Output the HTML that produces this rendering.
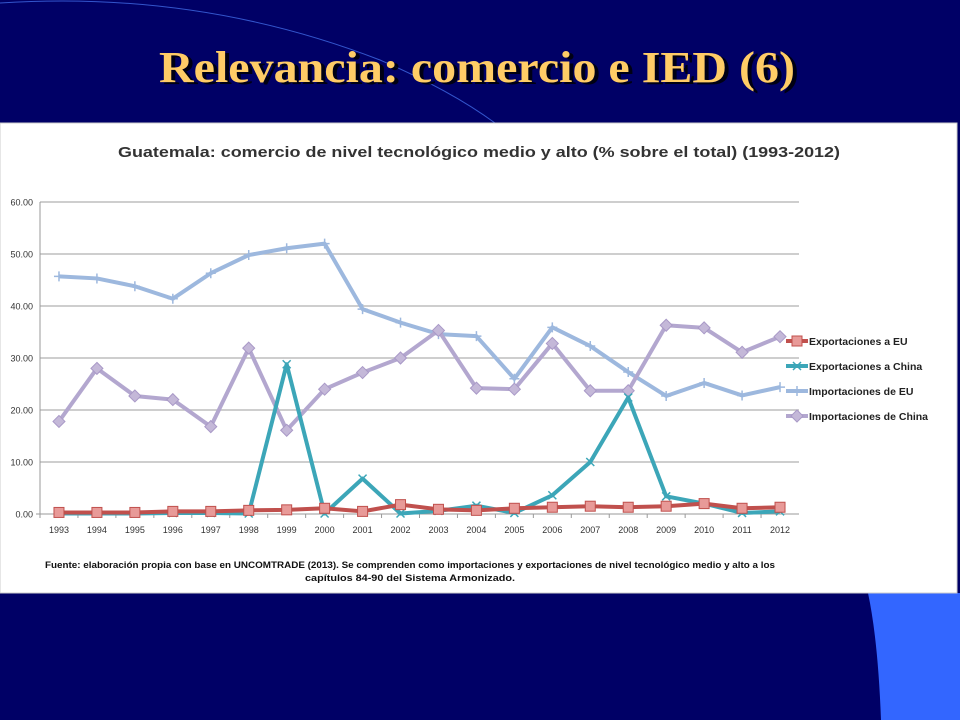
<!DOCTYPE html>
<html><head><meta charset="utf-8"><style>
html,body{margin:0;padding:0;background:#000066;}
svg{display:block;}
</style></head><body>
<svg width="960" height="720" viewBox="0 0 960 720" xmlns="http://www.w3.org/2000/svg">
<rect x="0" y="0" width="960" height="720" fill="#000066"/>
<path d="M0,3 Q200,-10 380,60 Q450,90 495,123" fill="none" stroke="#3355cc" stroke-width="1"/>
<path d="M868,593 L960,593 L960,720 L881,720 Q878,640 868,593 Z" fill="#3366ff"/>
<text x="479" y="82" text-anchor="middle" font-family="Liberation Serif, serif" font-weight="bold" font-size="44" fill="#000000" textLength="636" lengthAdjust="spacingAndGlyphs" opacity="0.8" transform="translate(2,2)">Relevancia: comercio e IED (6)</text>
<text x="477" y="82" text-anchor="middle" font-family="Liberation Serif, serif" font-weight="bold" font-size="44" fill="#ffcc66" textLength="636" lengthAdjust="spacingAndGlyphs">Relevancia: comercio e IED (6)</text>
<rect x="0" y="123" width="957" height="470" fill="#ffffff" stroke="#cccccc"/>
<text x="479" y="157" text-anchor="middle" font-family="Liberation Sans, sans-serif" font-weight="bold" font-size="15" fill="#333" textLength="722" lengthAdjust="spacingAndGlyphs">Guatemala: comercio de nivel tecnológico medio y alto (% sobre el total) (1993-2012)</text>
<g id="grid"></g>
<g id="axes"></g>
<g id="series"></g>
<g id="legend"></g>
<text x="410" y="568" text-anchor="middle" font-family="Liberation Sans, sans-serif" font-weight="bold" font-size="9.5" fill="#111" textLength="730" lengthAdjust="spacingAndGlyphs">Fuente: elaboración propia con base en UNCOMTRADE (2013). Se comprenden como importaciones y exportaciones de nivel tecnológico medio y alto a los</text>
<text x="410" y="581" text-anchor="middle" font-family="Liberation Sans, sans-serif" font-weight="bold" font-size="9.5" fill="#111" textLength="210" lengthAdjust="spacingAndGlyphs">capítulos 84-90 del Sistema Armonizado.</text>
</svg>
<script>
const years = ["1993","1994","1995","1996","1997","1998","1999","2000","2001","2002","2003","2004","2005","2006","2007","2008","2009","2010","2011","2012"];
const yTicks = [0,10,20,30,40,50,60];
const expEU = [0.3,0.3,0.3,0.5,0.5,0.7,0.8,1.1,0.5,1.8,0.9,0.7,1.1,1.3,1.5,1.3,1.5,2.0,1.1,1.3];
const expChina = [0.1,0.1,0.1,0.2,0.2,0.1,28.8,0.1,6.8,0.1,0.6,1.6,0.2,3.6,10.0,22.4,3.4,2.0,0.2,0.5];
const impEU = [45.7,45.3,43.8,41.4,46.3,49.8,51.1,52.0,39.4,36.8,34.6,34.2,26.0,35.9,32.3,27.3,22.7,25.2,22.8,24.4];
const impChina = [17.8,28.0,22.7,22.0,16.8,31.9,16.1,24.0,27.2,30.0,35.3,24.2,24.0,32.8,23.7,23.7,36.3,35.8,31.1,34.1];
const seriesNames = ["Exportaciones a EU","Exportaciones a China","Importaciones de EU","Importaciones de China"];

const NS="http://www.w3.org/2000/svg";
const X0=40, X1=799, Y0=514, Y60=202;
const step=(X1-X0)/years.length;
const xs=i=>X0+step*(i+0.5);
const ys=v=>Y0-(v/60)*(Y0-Y60);
function mk(tag,attrs,parent){const e=document.createElementNS(NS,tag);for(const k in attrs)e.setAttribute(k,attrs[k]);parent.appendChild(e);return e;}
const grid=document.getElementById('grid'), axes=document.getElementById('axes'), ser=document.getElementById('series'), leg=document.getElementById('legend');
yTicks.forEach(t=>{
  if(t>0){const l=mk('line',{x1:X0,x2:X1,y1:ys(t),y2:ys(t),stroke:'#bdbdbd','stroke-width':1.5},grid);
  
  }
  const tx=mk('text',{x:33,y:ys(t)+3.5,'text-anchor':'end','font-family':'Liberation Sans, sans-serif','font-size':9,fill:'#333'},axes);
  tx.textContent=t.toFixed(2);
  
  
});
mk('line',{x1:X0,x2:X0,y1:Y60,y2:Y0,stroke:'#999'},axes);
mk('line',{x1:X0-4,x2:X1,y1:Y0,y2:Y0,stroke:'#999'},axes);
years.forEach((y,i)=>{
  mk('line',{x1:X0+step*i,x2:X0+step*i,y1:Y0,y2:Y0+4,stroke:'#999'},axes);
  const tx=mk('text',{x:xs(i),y:Y0+19,'text-anchor':'middle','font-family':'Liberation Sans, sans-serif','font-size':9,fill:'#333'},axes);
  tx.textContent=y;
  
  
});
function marker(type,x,y,col,g){
  let m;
  if(type==='square') m=mk('rect',{x:x-5,y:y-5,width:10,height:10,fill:'#e89a98',stroke:'#c0504d','stroke-width':1},g);
  else if(type==='diamond') m=mk('path',{d:`M${x},${y-6}L${x+6},${y}L${x},${y+6}L${x-6},${y}Z`,fill:'#c4b8d8',stroke:'#a999c7'},g);
  else if(type==='x') m=mk('path',{d:`M${x-4},${y-4}L${x+4},${y+4}M${x-4},${y+4}L${x+4},${y-4}`,stroke:col,'stroke-width':1.5},g);
  else m=mk('path',{d:`M${x-5},${y}L${x+5},${y}M${x},${y-5}L${x},${y+5}`,stroke:col,'stroke-width':1.5},g);
  return m;
}
const defs=[
 {d:impEU,c:'#9db8de',m:'plus',name:'series-importaciones-eu'},
 {d:impChina,c:'#b3a7cf',m:'diamond',name:'series-importaciones-china'},
 {d:expChina,c:'#3ca6b8',m:'x',name:'series-exportaciones-china'},
 {d:expEU,c:'#c0504d',m:'square',name:'series-exportaciones-eu'}
];
defs.forEach(s=>{
  const g=mk('g',{},ser);
  
  
  const pts=s.d.map((v,i)=>xs(i)+','+ys(v)).join(' ');
  const pl=mk('polyline',{points:pts,fill:'none',stroke:s.c,'stroke-width':4,'stroke-linejoin':'round'},g);
  
  
  s.d.forEach((v,i)=>{const m=marker(s.m,xs(i),ys(v),s.c,g);
    
    });
});
const legDefs=[{c:'#c0504d',m:'square'},{c:'#3ca6b8',m:'x'},{c:'#9db8de',m:'plus'},{c:'#b3a7cf',m:'diamond'}];
legDefs.forEach((L,i)=>{
  const y=341+i*25;
  const g=mk('g',{},leg);
  
  g.setAointeractable='false';
  
  mk('line',{x1:786,x2:808,y1:y,y2:y,stroke:L.c,'stroke-width':4},g);
  marker(L.m,797,y,L.c,g);
  const t=mk('text',{x:809,y:y+4,'font-family':'Liberation Sans, sans-serif','font-weight':'bold','font-size':10.5,fill:'#222'},g);
  t.textContent=seriesNames[i];
});
</script>
</body></html>
